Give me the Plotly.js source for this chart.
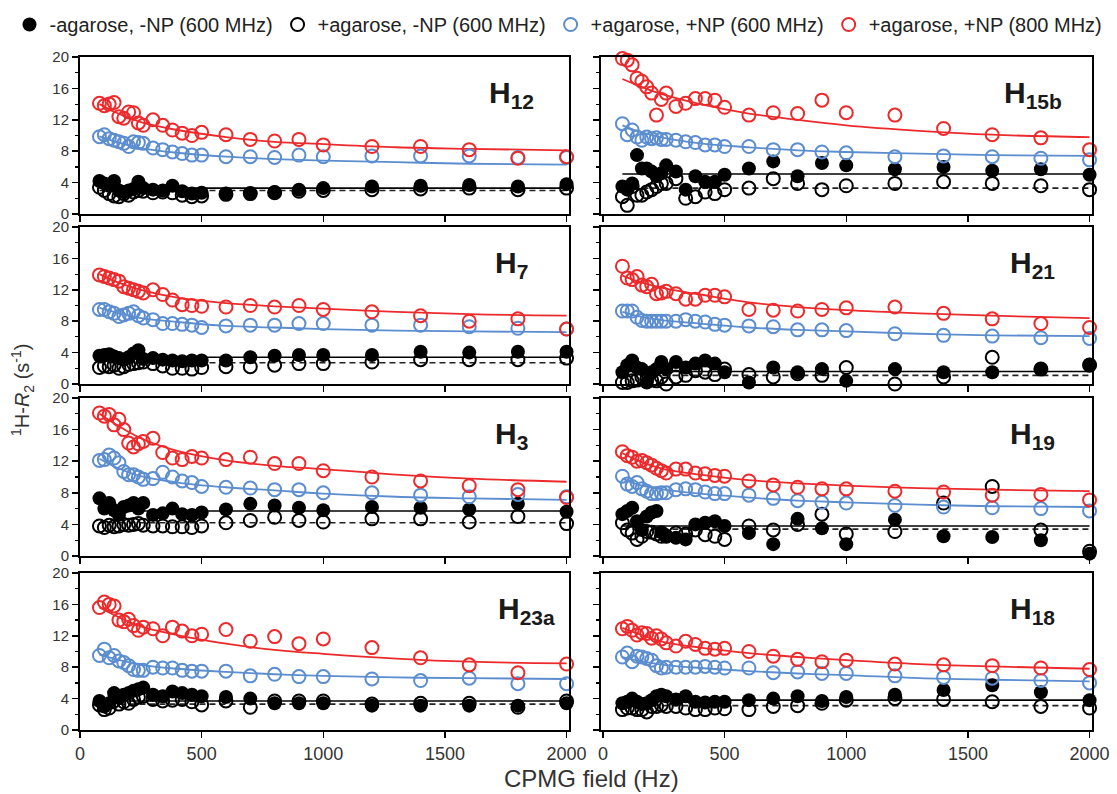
<!DOCTYPE html>
<html>
<head>
<meta charset="utf-8">
<script src="https://cdn.plot.ly/plotly-3.0.1.min.js"></script>
<style>html,body{margin:0;padding:0;background:#fff;}#chart{width:1117px;height:794px;}</style>
</head>
<body>
<div id="chart"></div>
<script>
// ---------- DATA ----------
const X = [80,100,120,140,160,180,200,220,240,260,300,340,380,420,460,500,600,700,800,900,1000,1200,1400,1600,1800,2000];
const FIT_X = [80,150,250,400,600,800,1000,1300,1600,2000];
const LEVEL_X = [80,2000];
const X_TICKS = [0,500,1000,1500,2000];
const Y_TICKS = [0,4,8,12,16,20];
const Y_MINOR = [2,6,10,14,18];
const SERIES_NAMES = ['-agarose, -NP (600 MHz)','+agarose, -NP (600 MHz)','+agarose, +NP (600 MHz)','+agarose, +NP (800 MHz)'];
const PANEL_LABELS = ['H<sub>12</sub>','H<sub>15b</sub>','H<sub>7</sub>','H<sub>21</sub>','H<sub>3</sub>','H<sub>19</sub>','H<sub>23a</sub>','H<sub>18</sub>'];

// H12
const h12_noAgarose = [4.2,3.9,3.6,4.2,3.0,2.8,3.0,3.2,4.1,3.3,3.1,3.0,3.6,2.9,2.6,2.7,2.6,2.6,2.8,3.1,3.3,3.5,3.6,3.7,3.5,3.8];
const h12_agarose   = [3.4,3.0,2.6,2.3,2.2,2.6,2.4,2.8,3.0,2.9,2.7,2.8,2.7,2.4,2.2,2.3,2.5,2.6,2.7,2.9,3.0,3.1,3.2,3.3,3.1,3.3];
const h12_np600     = [9.85,10.1,9.6,9.4,9.2,9.0,8.6,9.2,9.1,9.0,8.4,8.2,7.9,7.7,7.5,7.5,7.3,7.3,7.2,7.5,7.3,7.4,7.4,7.4,7.2,7.2];
const h12_np800     = [14.1,13.8,14.0,14.2,12.4,12.2,13.0,12.9,11.6,11.3,12.0,11.3,10.7,10.3,10.0,10.4,10.1,9.5,9.3,9.5,8.8,8.6,8.6,8.2,7.1,7.3];
const h12_fit600    = [9.9,9.2,8.4,7.8,7.3,7.0,6.8,6.6,6.4,6.3];
const h12_fit800    = [14.0,12.9,11.7,10.7,9.8,9.2,8.9,8.5,8.3,8.1];
const h12_levels    = [3.3,3.0];
// H15b
const h15b_noAgarose = [3.5,3.1,3.9,7.5,5.8,5.8,5.4,4.8,5.2,6.2,5.4,3.1,4.8,4.1,4.1,5.0,5.8,6.7,4.8,6.5,6.2,5.7,6.0,5.5,5.7,5.0];
const h15b_agarose   = [2.2,1.1,3.5,2.4,2.4,2.8,3.1,3.5,3.9,3.9,4.5,2.0,2.2,2.8,2.6,3.1,3.3,4.5,3.9,3.1,3.6,3.9,4.1,3.9,3.6,3.1];
const h15b_np600     = [11.5,10.1,10.7,9.8,9.4,9.8,9.6,9.7,9.5,9.5,9.4,9.2,9.1,8.8,8.8,8.6,8.6,8.2,8.2,7.9,7.8,7.3,7.4,7.3,7.1,6.9];
const h15b_np800     = [19.8,19.6,19.0,17.3,16.9,16.2,15.4,12.6,14.6,15.4,13.7,14.1,14.7,14.7,14.5,13.6,12.6,12.9,12.8,14.5,12.9,12.6,10.9,10.1,9.7,8.2];
const h15b_fit600    = [11.3,10.5,9.7,9.0,8.5,8.1,7.9,7.7,7.5,7.4];
const h15b_fit800    = [17.2,16.3,15.2,14.0,12.8,12.0,11.3,10.6,10.1,9.8];
const h15b_levels    = [5.1,3.3];
// H7
const h7_noAgarose = [3.6,3.7,3.8,3.5,3.3,3.1,3.4,3.9,4.3,3.2,3.3,3.1,3.0,2.9,3.0,3.0,3.0,3.4,3.6,3.7,3.7,3.7,4.1,4.0,4.1,4.1];
const h7_agarose   = [2.1,2.3,2.2,2.4,2.0,2.2,2.5,2.6,2.7,2.8,2.6,2.3,2.0,2.0,1.9,2.1,2.2,2.2,2.4,2.6,2.6,2.8,3.1,3.1,3.1,3.3];
const h7_np600     = [9.5,9.5,9.2,9.0,8.6,8.8,9.0,9.2,8.7,8.4,8.2,7.7,7.7,7.6,7.5,7.2,7.4,7.5,7.5,7.7,7.7,7.5,7.5,7.3,7.1,7.0];
const h7_np800     = [13.9,13.7,13.5,13.3,13.1,12.4,12.2,12.0,11.8,11.6,12.0,11.4,10.7,10.1,10.0,9.9,9.8,10.0,9.8,10.0,9.5,9.2,8.7,8.0,8.3,7.0];
const h7_fit600    = [9.7,9.1,8.4,7.9,7.4,7.2,7.0,6.8,6.7,6.6];
const h7_fit800    = [14.0,13.0,12.0,11.0,10.3,9.9,9.6,9.2,8.9,8.7];
const h7_levels    = [3.4,2.7];
// H21
const h21_noAgarose = [1.5,2.4,3.0,2.1,1.9,0.2,1.5,1.9,2.8,1.9,2.8,2.1,2.6,3.0,2.6,1.5,0.2,2.1,1.5,1.9,0.4,1.9,1.5,1.5,1.9,2.5];
const h21_agarose   = [0.2,0.2,0.4,0.5,0.9,0.6,0.5,0.4,0.9,0.0,0.9,1.1,1.7,1.5,1.2,1.9,1.2,0.9,1.3,1.1,2.1,0.0,0.9,3.4,1.9,2.4];
const h21_np600     = [9.3,9.3,9.3,8.5,8.1,8.0,8.0,8.0,8.0,8.0,8.0,8.2,8.0,7.9,7.6,7.5,7.4,7.3,6.9,6.9,6.8,6.4,6.2,6.1,5.9,5.8];
const h21_np800     = [15.0,13.5,13.3,13.7,12.6,12.4,12.7,11.5,11.6,11.8,11.5,10.8,10.8,11.3,11.3,11.1,9.5,9.4,9.3,9.5,9.7,9.8,9.0,8.3,7.7,7.2];
const h21_fit600    = [9.2,8.6,8.1,7.7,7.2,6.9,6.7,6.4,6.2,6.1];
const h21_fit800    = [13.8,13.0,12.2,11.4,10.4,9.8,9.4,9.0,8.7,8.4];
const h21_levels    = [1.6,1.1];
// H3
const h3_noAgarose = [7.3,6.0,6.7,5.8,5.2,6.2,6.4,6.7,6.0,6.7,5.2,5.4,6.0,5.3,5.2,5.5,5.9,6.6,6.4,6.1,5.8,6.2,6.1,5.9,6.6,5.6];
const h3_agarose   = [3.8,3.6,3.9,3.7,3.8,4.0,3.9,4.0,4.1,3.9,3.8,3.8,3.7,3.7,3.6,3.8,4.2,4.5,4.9,4.5,4.3,4.7,4.7,4.3,5.0,4.1];
const h3_np600     = [12.1,12.2,12.8,12.4,11.8,10.7,10.3,10.3,10.0,9.7,9.8,10.6,10.0,9.5,9.3,8.8,8.7,8.6,8.4,8.4,8.0,8.0,7.7,7.5,7.8,7.5];
const h3_np800     = [18.1,17.7,17.9,16.6,17.3,16.0,14.3,13.8,14.2,14.5,14.9,13.1,12.4,12.2,12.6,12.4,12.2,12.5,11.7,11.7,10.8,10.0,9.5,8.9,8.4,7.4];
const h3_fit600    = [12.3,11.2,10.1,9.3,8.7,8.3,7.9,7.5,7.3,7.1];
const h3_fit800    = [18.0,16.6,14.9,13.3,12.1,11.4,11.0,10.3,9.8,9.4];
const h3_levels    = [5.7,4.2];
// H19
const h19_noAgarose = [5.3,5.7,6.1,4.4,3.3,5.0,5.5,5.7,3.0,2.5,2.3,2.1,4.0,4.2,4.4,3.8,2.9,1.5,4.7,3.5,1.5,4.6,2.5,2.4,2.0,0.3];
const h19_agarose   = [4.2,3.3,2.9,2.1,2.5,3.1,3.0,2.8,2.5,2.5,2.9,2.8,3.3,2.7,2.5,2.1,3.8,3.3,4.0,5.3,2.8,3.1,6.7,8.8,3.3,0.6];
const h19_np600     = [10.1,9.1,8.8,9.3,8.5,8.2,7.9,7.9,8.0,8.0,8.4,8.5,8.4,8.1,7.9,7.9,7.7,7.3,7.0,6.8,6.7,6.4,6.2,6.1,6.0,5.7];
const h19_np800     = [13.2,12.7,12.5,12.0,12.1,11.8,11.5,11.1,10.8,10.5,11.0,11.0,10.5,10.4,10.2,10.1,9.5,9.0,8.7,8.5,8.5,8.2,8.1,7.7,7.8,7.1];
const h19_fit600    = [9.8,9.0,8.4,7.9,7.4,7.0,6.8,6.5,6.3,6.2];
const h19_fit800    = [13.0,12.0,11.0,10.3,9.6,9.2,8.9,8.6,8.4,8.2];
const h19_levels    = [3.8,3.4];
// H23a
const h23a_noAgarose = [3.7,3.0,3.4,4.7,4.1,4.5,4.7,5.0,5.2,5.4,4.5,4.3,4.9,4.7,4.5,4.3,4.2,4.0,3.4,3.4,3.4,3.1,3.1,3.1,3.1,3.4];
const h23a_agarose   = [3.2,2.6,2.8,3.7,3.3,3.6,3.4,3.9,4.2,4.3,3.9,3.7,3.8,3.9,3.6,3.2,3.7,2.9,3.7,3.7,3.7,3.3,3.4,3.4,2.9,3.7];
const h23a_np600     = [9.5,10.3,9.2,9.5,8.8,8.6,8.2,7.7,7.6,7.6,8.0,7.9,7.9,7.6,7.5,7.5,7.5,6.9,7.1,6.8,6.8,6.5,6.3,6.6,5.9,5.9];
const h23a_np800     = [15.6,16.3,16.0,15.8,14.0,13.8,14.1,13.3,12.7,13.1,12.9,12.0,13.1,12.6,12.0,12.2,12.8,11.3,11.9,11.0,11.6,10.5,9.2,8.3,7.3,8.4];
const h23a_fit600    = [9.6,9.0,8.3,7.8,7.4,7.1,6.9,6.7,6.6,6.5];
const h23a_fit800    = [15.6,14.5,13.2,12.1,11.0,10.2,9.7,9.1,8.7,8.5];
const h23a_levels    = [3.7,3.3];
// H18
const h18_noAgarose = [3.4,3.6,4.0,3.6,3.3,3.4,3.8,4.3,4.5,4.3,3.9,4.3,3.6,3.5,3.6,3.6,3.8,4.0,4.3,3.7,4.2,4.5,5.1,5.7,4.8,3.8];
const h18_agarose   = [2.6,2.8,2.8,2.6,2.6,2.3,3.0,3.0,3.2,3.0,3.0,2.8,2.6,2.6,2.8,2.7,2.6,3.0,3.1,3.4,3.8,4.0,3.9,3.6,3.0,2.8];
const h18_np600     = [9.3,9.8,8.7,9.4,9.3,9.1,8.9,8.2,7.9,8.0,8.0,8.0,8.0,8.1,8.0,7.9,7.9,7.3,7.4,7.2,7.2,6.9,6.7,6.6,6.3,6.0];
const h18_np800     = [12.9,13.2,12.7,12.1,12.4,12.3,11.7,12.0,11.6,11.1,10.7,11.3,10.9,10.4,10.3,10.4,10.0,9.4,9.0,8.7,8.9,8.4,8.3,8.2,7.9,7.7];
const h18_fit600    = [9.3,8.8,8.3,7.9,7.5,7.2,7.0,6.6,6.4,6.2];
const h18_fit800    = [13.0,12.2,11.2,10.5,9.8,9.3,8.9,8.4,8.1,7.8];
const h18_levels    = [3.8,3.1];

const PANELS = [
  {label: PANEL_LABELS[0], noAg: h12_noAgarose,  ag: h12_agarose,  np600: h12_np600,  np800: h12_np800,  fit600: h12_fit600,  fit800: h12_fit800,  levels: h12_levels},
  {label: PANEL_LABELS[1], noAg: h15b_noAgarose, ag: h15b_agarose, np600: h15b_np600, np800: h15b_np800, fit600: h15b_fit600, fit800: h15b_fit800, levels: h15b_levels},
  {label: PANEL_LABELS[2], noAg: h7_noAgarose,   ag: h7_agarose,   np600: h7_np600,   np800: h7_np800,   fit600: h7_fit600,   fit800: h7_fit800,   levels: h7_levels},
  {label: PANEL_LABELS[3], noAg: h21_noAgarose,  ag: h21_agarose,  np600: h21_np600,  np800: h21_np800,  fit600: h21_fit600,  fit800: h21_fit800,  levels: h21_levels},
  {label: PANEL_LABELS[4], noAg: h3_noAgarose,   ag: h3_agarose,   np600: h3_np600,   np800: h3_np800,   fit600: h3_fit600,   fit800: h3_fit800,   levels: h3_levels},
  {label: PANEL_LABELS[5], noAg: h19_noAgarose,  ag: h19_agarose,  np600: h19_np600,  np800: h19_np800,  fit600: h19_fit600,  fit800: h19_fit800,  levels: h19_levels},
  {label: PANEL_LABELS[6], noAg: h23a_noAgarose, ag: h23a_agarose, np600: h23a_np600, np800: h23a_np800, fit600: h23a_fit600, fit800: h23a_fit800, levels: h23a_levels},
  {label: PANEL_LABELS[7], noAg: h18_noAgarose,  ag: h18_agarose,  np600: h18_np600,  np800: h18_np800,  fit600: h18_fit600,  fit800: h18_fit800,  levels: h18_levels}
];

// ---------- LAYOUT GEOMETRY ----------
const W = 1117, H = 794;
const FONT = 'Liberation Sans, Arial, Helvetica, sans-serif';
const RED = '#ec2a2c', BLUE = '#5b8dcf', BLACK = '#000000', TXT = '#333333';
const COLS = [{l: 80, r: 569, range: [0, 2010]}, {l: 601, r: 1092, range: [-8, 2010]}];
const ROWS = [{t: 57, b: 214}, {t: 227, b: 384}, {t: 398, b: 556}, {t: 573, b: 730}];
const LABEL_RIGHT = [536, 1064, 530, 1057, 530, 1057, 557, 1057];

const traces = [];
const layout = {
  width: W, height: H,
  margin: {l: 0, r: 0, t: 0, b: 0},
  paper_bgcolor: '#ffffff', plot_bgcolor: '#ffffff',
  font: {family: FONT, color: TXT},
  showlegend: true,
  legend: {
    orientation: 'h', x: 0.5, xanchor: 'center', y: 1 - 5 / H, yanchor: 'top',
    font: {family: FONT, size: 20, color: '#222'}, bgcolor: 'rgba(0,0,0,0)',
    itemwidth: 30, tracegroupgap: 0
  },
  annotations: []
};

PANELS.forEach((p, i) => {
  const row = Math.floor(i / 2), col = i % 2;
  const n = i + 1;
  const xa = 'x' + (n === 1 ? '' : n), ya = 'y' + (n === 1 ? '' : n);
  const C = COLS[col], R = ROWS[row];
  layout['xaxis' + (n === 1 ? '' : n)] = {
    domain: [C.l / W, C.r / W], range: C.range, anchor: ya,
    showline: true, linecolor: BLACK, linewidth: 2, mirror: true,
    ticks: 'outside', ticklen: 6, tickwidth: 1.5, tickcolor: BLACK,
    tickvals: X_TICKS, ticktext: X_TICKS.map(String),
    showticklabels: row === 3, tickfont: {family: FONT, size: 18, color: TXT},
    showgrid: false, zeroline: false
  };
  layout['yaxis' + (n === 1 ? '' : n)] = {
    domain: [1 - R.b / H, 1 - R.t / H], range: [0, 20], anchor: xa,
    showline: true, linecolor: BLACK, linewidth: 2, mirror: true,
    ticks: 'outside', ticklen: 6, tickwidth: 1.5, tickcolor: BLACK,
    tickvals: Y_TICKS, ticktext: Y_TICKS.map(String),
    minor: {tickvals: Y_MINOR, ticks: 'outside', ticklen: 3, tickwidth: 1.2, tickcolor: BLACK},
    showticklabels: col === 0, tickfont: {family: FONT, size: 15, color: TXT},
    showgrid: false, zeroline: false
  };

  // fitted / level lines (behind markers)
  traces.push({x: LEVEL_X, y: [p.levels[0], p.levels[0]], xaxis: xa, yaxis: ya, mode: 'lines',
    line: {color: BLACK, width: 1.6}, showlegend: false, hoverinfo: 'skip'});
  traces.push({x: LEVEL_X, y: [p.levels[1], p.levels[1]], xaxis: xa, yaxis: ya, mode: 'lines',
    line: {color: '#222', width: 1.6, dash: '6px,4px'}, showlegend: false, hoverinfo: 'skip'});
  traces.push({x: FIT_X, y: p.fit600, xaxis: xa, yaxis: ya, mode: 'lines',
    line: {color: BLUE, width: 1.8, shape: 'spline', smoothing: 1}, showlegend: false, hoverinfo: 'skip'});
  traces.push({x: FIT_X, y: p.fit800, xaxis: xa, yaxis: ya, mode: 'lines',
    line: {color: RED, width: 1.8, shape: 'spline', smoothing: 1}, showlegend: false, hoverinfo: 'skip'});

  const first = i === 0;
  traces.push({x: X, y: p.ag, xaxis: xa, yaxis: ya, mode: 'markers', name: SERIES_NAMES[1],
    legendrank: 2, showlegend: first, legendgroup: 'ag', cliponaxis: false,
    marker: {symbol: 'circle-open', size: 13, color: BLACK, line: {width: 2, color: BLACK}}});
  traces.push({x: X, y: p.noAg, xaxis: xa, yaxis: ya, mode: 'markers', name: SERIES_NAMES[0],
    legendrank: 1, showlegend: first, legendgroup: 'noag', cliponaxis: false,
    marker: {symbol: 'circle', size: 14, color: BLACK, line: {width: 0}}});
  traces.push({x: X, y: p.np600, xaxis: xa, yaxis: ya, mode: 'markers', name: SERIES_NAMES[2],
    legendrank: 3, showlegend: first, legendgroup: 'np600', cliponaxis: false,
    marker: {symbol: 'circle-open', size: 13, color: BLUE, line: {width: 2, color: BLUE}}});
  traces.push({x: X, y: p.np800, xaxis: xa, yaxis: ya, mode: 'markers', name: SERIES_NAMES[3],
    legendrank: 4, showlegend: first, legendgroup: 'np800', cliponaxis: false,
    marker: {symbol: 'circle-open', size: 13, color: RED, line: {width: 2, color: RED}}});

  layout.annotations.push({
    text: '<b>' + p.label + '</b>', xref: xa + ' domain', yref: ya + ' domain',
    x: (LABEL_RIGHT[i] - C.l) / (C.r - C.l), xanchor: 'right',
    y: 1 - 37 / (R.b - R.t), yanchor: 'middle', showarrow: false,
    font: {family: FONT, size: 30, color: '#1a1a1a'}
  });
});

layout.annotations.push({
  text: 'CPMG field (Hz)', xref: 'paper', yref: 'paper', x: 591 / W, y: 1 - 778 / H,
  xanchor: 'center', yanchor: 'middle', showarrow: false,
  font: {family: FONT, size: 24, color: TXT}
});
layout.annotations.push({
  text: '<sup>1</sup>H-<i>R</i><sub>2</sub> (s<sup>-1</sup>)', xref: 'paper', yref: 'paper',
  x: 22 / W, y: 1 - 390 / H, xanchor: 'center', yanchor: 'middle', textangle: -90, showarrow: false,
  font: {family: FONT, size: 20, color: TXT}
});

Plotly.newPlot('chart', traces, layout, {displayModeBar: false, staticPlot: true});
</script>
</body>
</html>
